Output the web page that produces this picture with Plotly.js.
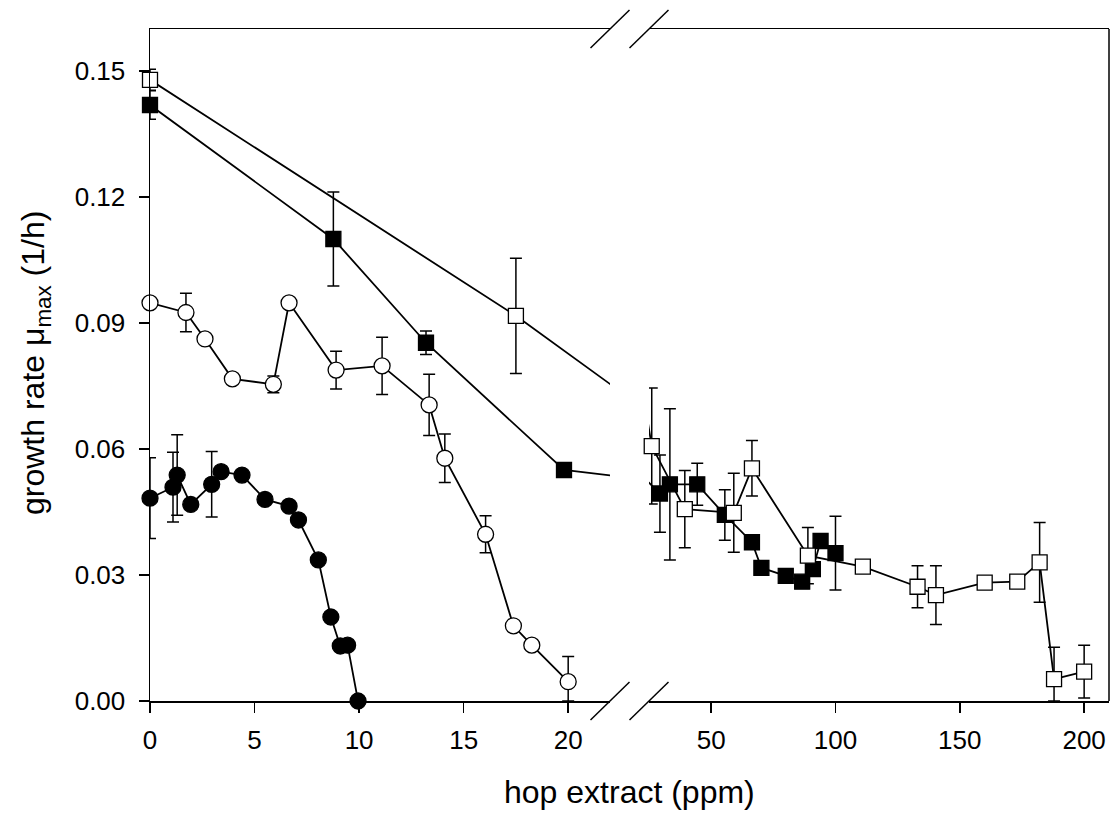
<!DOCTYPE html>
<html>
<head>
<meta charset="utf-8">
<script src="https://cdn.plot.ly/plotly-3.0.1.min.js"></script>
<style>html,body{margin:0;padding:0;background:#fff;}#chart{width:1112px;height:814px;}</style>
</head>
<body>
<div id="chart"></div>
<script>
// ---- data ----
// filled circles
const fcX   = [0, 1.1, 1.3, 1.95, 2.95, 3.4, 4.4, 5.5, 6.65, 7.1, 8.05, 8.65, 9.1, 9.45, 9.95];
const fcY   = [0.0483, 0.0509, 0.0538, 0.0468, 0.0516, 0.0546, 0.0538, 0.0480, 0.0464, 0.0431, 0.0336, 0.0200, 0.0131, 0.0133, 0.0000];
const fcErr = [0.0096, 0.0083, 0.0096, 0, 0.0078, 0, 0, 0, 0, 0, 0, 0, 0, 0, 0];
// open circles
const ocX   = [0, 1.72, 2.63, 3.94, 5.9, 6.65, 8.9, 11.1, 13.35, 14.1, 16.05, 17.38, 18.26, 20.0];
const ocY   = [0.0948, 0.0925, 0.0862, 0.0767, 0.0754, 0.0948, 0.0788, 0.0798, 0.0705, 0.0578, 0.0397, 0.0179, 0.0133, 0.0046];
const ocErr = [0, 0.0046, 0, 0, 0.0020, 0, 0.0045, 0.0068, 0.0073, 0.0058, 0.0044, 0, 0, 0.0060];
// filled squares
const fsX   = [0, 8.77, 13.2, 19.8, 29.4, 33.4, 44.4, 55.5, 66.4, 70.2, 80, 86.6, 90.9, 94, 100];
const fsY   = [0.1419, 0.1100, 0.0853, 0.0550, 0.0494, 0.0516, 0.0516, 0.0443, 0.0378, 0.0317, 0.0298, 0.0284, 0.0314, 0.0381, 0.0352];
const fsErr = [0.0034, 0.0112, 0.0028, 0, 0.0092, 0.0180, 0.0050, 0.0060, 0, 0, 0, 0, 0, 0, 0.0088];
// open squares
const osX   = [0, 17.5, 26.1, 39.4, 59.1, 66.4, 88.9, 111, 133, 140.4, 160, 173.1, 182.1, 187.9, 200];
const osY   = [0.1479, 0.0917, 0.0607, 0.0457, 0.0448, 0.0554, 0.0346, 0.0320, 0.0272, 0.0252, 0.0282, 0.0284, 0.0330, 0.0052, 0.0070];
const osErr = [0.0025, 0.0137, 0.0138, 0.0092, 0.0094, 0.0066, 0.0067, 0.0010, 0.0050, 0.0070, 0, 0, 0.0095, 0.0076, 0.0063];

const xTicksLeft  = [0, 5, 10, 15, 20];
const xTicksRight = [50, 100, 150, 200];
const yTicks      = [0, 0.03, 0.06, 0.09, 0.12, 0.15];
const xTitle = 'hop extract (ppm)';
const yTitle = 'growth rate μ<sub>max</sub> (1/h)';

// ---- styling / layout ----
const FONT = 'Arial, "Liberation Sans", sans-serif';
const series = [
  {x: fcX, y: fcY, e: fcErr, symbol: 'circle', fill: '#000000', size: 16},
  {x: ocX, y: ocY, e: ocErr, symbol: 'circle', fill: '#ffffff', size: 16},
  {x: fsX, y: fsY, e: fsErr, symbol: 'square', fill: '#000000', size: 15},
  {x: osX, y: osY, e: osErr, symbol: 'square', fill: '#ffffff', size: 15}
];
const panels = [
  {xa: 'x',  range: [0, 22]},
  {xa: 'x2', range: [25, 210]}
];

const traces = [];
// connecting lines (clipped to each panel)
series.forEach(s => panels.forEach(p => {
  traces.push({
    type: 'scatter', mode: 'lines', x: s.x, y: s.y, xaxis: p.xa, yaxis: 'y',
    line: {color: '#000', width: 1.8}, cliponaxis: true, hoverinfo: 'skip'
  });
}));
// markers + error bars (only points inside each panel)
series.forEach(s => panels.forEach(p => {
  const idx = s.x.map((v, i) => i).filter(i => s.x[i] >= p.range[0] && s.x[i] <= p.range[1]);
  if (!idx.length) return;
  traces.push({
    type: 'scatter', mode: 'markers', xaxis: p.xa, yaxis: 'y',
    x: idx.map(i => s.x[i]), y: idx.map(i => s.y[i]),
    marker: {symbol: s.symbol, size: s.size, color: s.fill, line: {color: '#000', width: 1.3}},
    error_y: {type: 'data', symmetric: false, visible: true,
      array: idx.map(i => s.e[i]),
      arrayminus: idx.map(i => Math.min(s.e[i], s.y[i])),
      color: '#000', thickness: 1.5, width: 6},
    cliponaxis: false, hoverinfo: 'skip'
  });
}));

const L = 150, R = 1109, T = 29, B = 701;
const W = R - L, H = B - T;
const d1 = (610 - L) / W, d2 = (649 - L) / W;
const px = v => v / W, py = v => v / H;

const axisCommon = {
  showline: true, linecolor: '#000', linewidth: 1.5, mirror: true,
  ticks: 'outside', ticklen: 10, tickwidth: 1.5, tickcolor: '#000',
  showgrid: false, zeroline: false, fixedrange: true,
  tickfont: {family: FONT, size: 26, color: '#000'}, automargin: false
};

const brk = [];
[d1, d2].forEach(xc => {
  [0, 1].forEach(yc => {
    brk.push({type: 'line', xref: 'paper', yref: 'paper',
      x0: xc - px(19.5), y0: yc - py(19), x1: xc + px(19.5), y1: yc + py(19),
      line: {color: '#000', width: 1.5}});
  });
});
brk.push({type: 'line', xref: 'paper', yref: 'paper', x0: 1, x1: 1, y0: 0, y1: 1,
  line: {color: '#000', width: 1.5}});

const layout = {
  width: 1112, height: 814,
  margin: {l: L, r: 1112 - R, t: T, b: 814 - B, pad: 0},
  paper_bgcolor: '#fff', plot_bgcolor: '#fff',
  showlegend: false, hovermode: false,
  xaxis: Object.assign({}, axisCommon, {domain: [0, d1], range: panels[0].range, anchor: 'y',
    tickvals: xTicksLeft, ticktext: xTicksLeft.map(String), ticklabelstandoff: 5}),
  xaxis2: Object.assign({}, axisCommon, {domain: [d2, 1], range: panels[1].range, anchor: 'y',
    tickvals: xTicksRight, ticktext: xTicksRight.map(String), ticklabelstandoff: 5}),
  yaxis: Object.assign({}, axisCommon, {domain: [0, 1], range: [0, 0.16], anchor: 'x',
    mirror: false, tickvals: yTicks, ticktext: yTicks.map(v => v.toFixed(2)), ticklabelstandoff: 8}),
  shapes: brk,
  annotations: [
    {text: xTitle, xref: 'paper', yref: 'paper', x: 0.5, y: -(792 - B) / H,
      xanchor: 'center', yanchor: 'middle', showarrow: false,
      font: {family: FONT, size: 32, color: '#000'}},
    {text: yTitle, xref: 'paper', yref: 'paper', x: -(L - 35) / W, y: 0.5 - (363 - (T + B) / 2) / H,
      xanchor: 'center', yanchor: 'middle', textangle: -90, showarrow: false,
      font: {family: FONT, size: 32, color: '#000'}}
  ]
};

Plotly.newPlot('chart', traces, layout, {staticPlot: true, displayModeBar: false});
</script>
</body>
</html>
